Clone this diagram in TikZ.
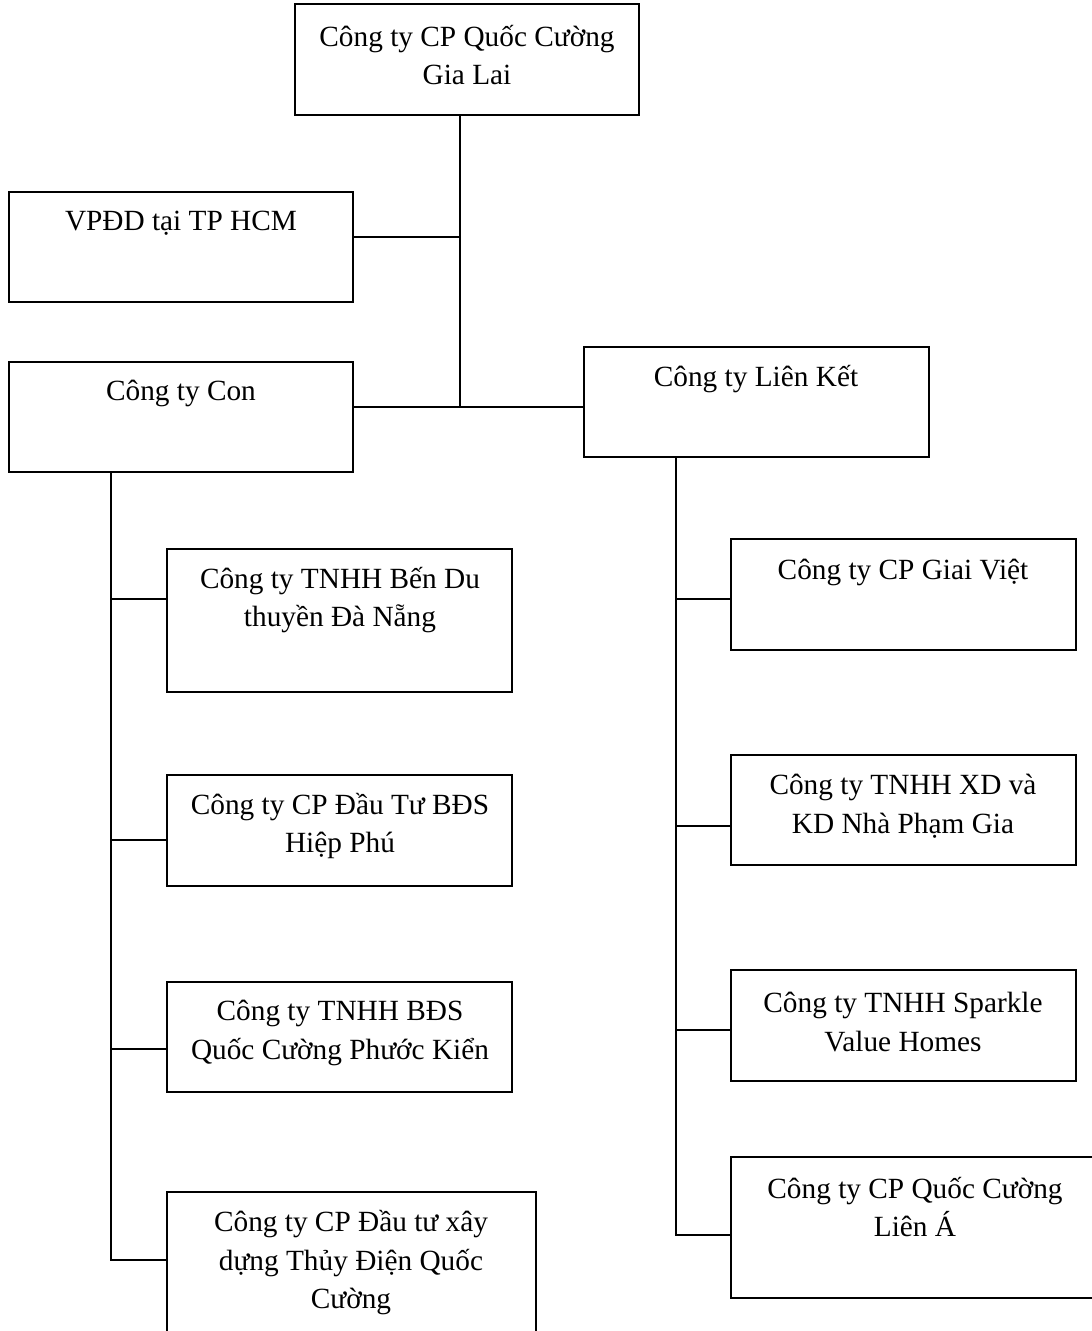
\documentclass[tikz,border=0pt]{standalone}
\usepackage{fontspec}
\setmainfont{Liberation Serif}
\begin{document}
\begin{tikzpicture}[x=1pt,y=-1pt,
  box/.style={draw=black,line width=1.4pt,inner sep=0pt,outer sep=0pt,anchor=north west},
  txt/.style={align=center,inner sep=0pt,font=\fontsize{29.3}{38.5}\selectfont},
  conn/.style={draw=black,line width=1.4pt}]
\useasboundingbox (0,0) rectangle (1092,1331);
\begin{scope}
\clip (0,0) rectangle (1092,1331);
% boxes
\node[box,minimum width=344pt,minimum height=111pt] (top) at (295,4) {};
\node[box,minimum width=344pt,minimum height=110pt] (vp) at (9,192) {};
\node[box,minimum width=344pt,minimum height=110pt] (con) at (9,362) {};
\node[box,minimum width=345pt,minimum height=110pt] (lk) at (584,347) {};
\node[box,minimum width=345pt,minimum height=143pt] (l1) at (167,549) {};
\node[box,minimum width=345pt,minimum height=111pt] (l2) at (167,775) {};
\node[box,minimum width=345pt,minimum height=110pt] (l3) at (167,982) {};
\node[box,minimum width=369pt,minimum height=160pt] (l4) at (167,1192) {};
\node[box,minimum width=345pt,minimum height=111pt] (r1) at (731,539) {};
\node[box,minimum width=345pt,minimum height=110pt] (r2) at (731,755) {};
\node[box,minimum width=345pt,minimum height=111pt] (r3) at (731,970) {};
\node[box,minimum width=370pt,minimum height=141pt] (r4) at (731,1157) {};
% texts
\node[txt] (ttop) at (467,55) {Công ty CP Quốc Cường\\Gia Lai};
\node[txt] (tvp) at (181,223) {VPĐD tại TP HCM};
\node[txt] (tcon) at (181,393) {Công ty Con};
\node[txt] (tlk) at (756,379) {Công ty Liên Kết};
\node[txt] (tl1) at (340,600) {Công ty TNHH Bến Du\\thuyền Đà Nẵng};
\node[txt] (tl2) at (340,826) {Công ty CP Đầu Tư BĐS\\Hiệp Phú};
\node[txt] (tl3) at (340,1033) {Công ty TNHH BĐS\\Quốc Cường Phước Kiển};
\node[txt] (tl4) at (351,1263) {Công ty CP Đầu tư xây\\dựng Thủy Điện Quốc\\Cường};
\node[txt] (tr1) at (903,572) {Công ty CP Giai Việt};
\node[txt] (tr2) at (903,806) {Công ty TNHH XD và\\KD Nhà Phạm Gia};
\node[txt] (tr3) at (903,1022) {Công ty TNHH Sparkle\\Value Homes};
\node[txt] (tr4) at (915,1207) {Công ty CP Quốc Cường\\Liên Á};
% junctions
\coordinate (j1) at (460,237);
\coordinate (j2) at (460,407);
\coordinate (a1) at (111,599);
\coordinate (a2) at (111,840);
\coordinate (a3) at (111,1049);
\coordinate (a4) at (111,1260);
\coordinate (b1) at (676,599);
\coordinate (b2) at (676,826);
\coordinate (b3) at (676,1030);
\coordinate (b4) at (676,1235);
% connectors
\draw[conn] (top.south -| j1) -- (j2);
\draw[conn] (j1 -| vp.east) -- (j1);
\draw[conn] (j2 -| con.east) -- (j2 -| lk.west);
\draw[conn] (con.south -| a1) -- (a4) -- (a4 -| l4.west);
\draw[conn] (a1) -- (a1 -| l1.west);
\draw[conn] (a2) -- (a2 -| l2.west);
\draw[conn] (a3) -- (a3 -| l3.west);
\draw[conn] (lk.south -| b1) -- (b4) -- (b4 -| r4.west);
\draw[conn] (b1) -- (b1 -| r1.west);
\draw[conn] (b2) -- (b2 -| r2.west);
\draw[conn] (b3) -- (b3 -| r3.west);
\end{scope}
\end{tikzpicture}
\end{document}
